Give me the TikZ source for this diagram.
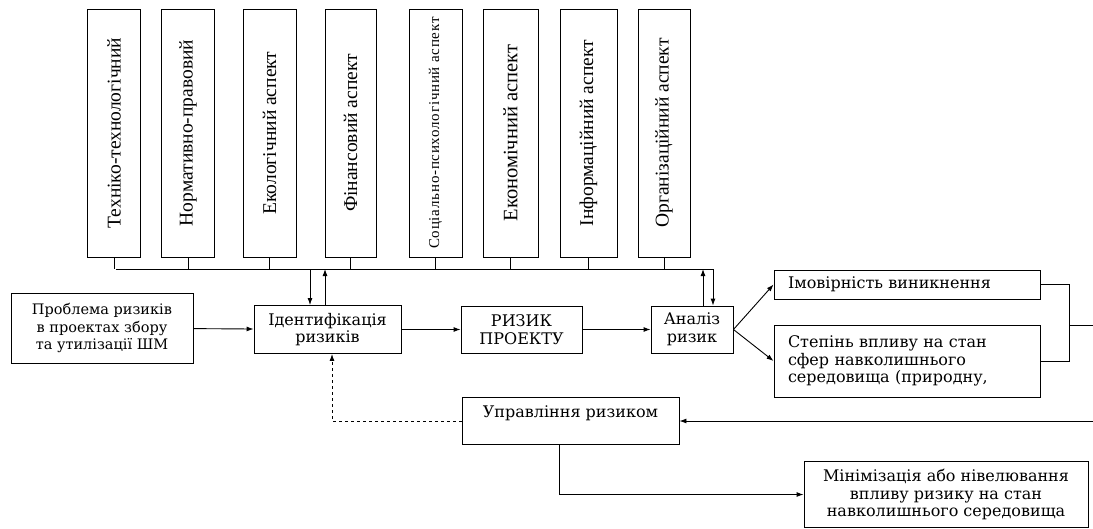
\documentclass[tikz,border=0pt]{standalone}
\usepackage{fontspec}
\setmainfont{Liberation Serif}
\newfontfamily\wideserif{DejaVu Serif}
\usetikzlibrary{arrows.meta}

\tikzset{
  blk/.style={draw, line width=.9pt, inner sep=0pt},
  aspect/.style={blk, rotate=90, minimum width=248, minimum height=53,
    font=\fontsize{19.5}{19.5}\selectfont},
  hbox/.style={blk, align=center, font=\wideserif\fontsize{16}{17.5}\selectfont},
  con/.style={line width=.9pt},
  arr/.style={con, -{Latex[length=7pt,width=5pt]}}
}

\begin{document}
\begin{tikzpicture}[x=1pt,y=-1pt]
\useasboundingbox (0,0) rectangle (1093,528);

% aspects along the top
\node[aspect] (tech) at (114,133) {Техніко-технологічний};
\node[aspect] (norm) at (188,133) {Нормативно-правовий};
\node[aspect] (ekol) at (269.5,133) {Екологічний аспект};
\node[aspect, minimum height=51] (fin) at (350.5,133) {Фінансовий аспект};
\node[aspect, font={\addfontfeatures{LetterSpace=5}\fontsize{15}{15}\selectfont}] (soc) at (435.5,133)
  {Соціально-психологічний аспект};
\node[aspect, minimum height=55, font=\fontsize{20.5}{20.5}\selectfont] (ekon) at (510.5,133) {Економічний аспект};
\node[aspect, minimum height=57] (inf) at (588.5,133) {Інформаційний аспект};
\node[aspect, minimum height=52] (org) at (664,133) {Організаційний аспект};

\coordinate (busL) at (116,269);
\coordinate (busR) at (713,269);
\draw[con] (busL) -- (busR);
\draw[con] (tech.west) -- (tech.west |- busL);
\draw[con] (norm.west) -- (norm.west |- busL);
\draw[con] (ekol.west) -- (ekol.west |- busL);
\draw[con] (fin.west) -- (fin.west |- busL);
\draw[con] (soc.west) -- (soc.west |- busL);
\draw[con] (ekon.west) -- (ekon.west |- busL);
\draw[con] (inf.west) -- (inf.west |- busL);
\draw[con] (org.west) -- (org.west |- busL);

% main chain
\node[hbox, minimum width=182, minimum height=70, font=\wideserif\fontsize{14.5}{17.5}\selectfont] (prob) at (102,328)
  {Проблема ризиків\\в проектах збору\\та утилізації ШМ};
\node[hbox, minimum width=147, minimum height=48] (ident) at (327.5,329.5)
  {Ідентифікація\\ризиків};
\node[hbox, minimum width=121, minimum height=47] (rizik) at (521.5,329.5)
  {РИЗИК\\ПРОЕКТУ};
\node[hbox, minimum width=82, minimum height=47] (anal) at (692,329.5)
  {Аналіз\\ризик};

\draw[arr] (prob) -- (ident);
\draw[arr] (ident) -- (rizik);
\draw[arr] (rizik) -- (anal);

\draw[arr] (busL -| 310,0) -- (ident.north -| 310,0);
\draw[arr] (ident.north -| 325,0) -- (busL -| 325,0);
\draw[arr] (anal.north -| 703,0) -- (busR -| 703,0);
\draw[arr] (busR) -- (anal.north -| busR);

% outcomes of the analysis
\node[hbox, align=left, text width=238, minimum width=266, minimum height=29] (imov) at (907,284.5)
  {Імовірність виникнення};
\node[hbox, align=left, text width=238, minimum width=266, minimum height=72] (step) at (907,361)
  {Степінь впливу на стан\\сфер навколишнього\\середовища (природну,};

\draw[arr] (anal.east) -- (imov.west);
\draw[arr] (anal.east) -- (step.west);

\coordinate (join) at (1069,325);
\coordinate (outR) at (1093,325);
\draw[con] (imov.east) -| (join) |- (step.east);
\draw[con] (join) -- (outR);

% management
\node[blk, minimum width=217, minimum height=47,
  label={[anchor=north, yshift=-5pt, font=\wideserif\fontsize{16}{17.5}\selectfont]north:Управління ризиком}]
  (upr) at (570.5,421) {};
\coordinate (inR) at (1093,421);
\draw[arr] (inR) -- (upr.east);
\draw[arr, dashed] (upr.west) -| ([xshift=4.5pt]ident.south);

\node[hbox, minimum width=284, minimum height=66] (mini) at (946,494.5)
  {Мінімізація або нівелювання\\впливу ризику на стан\\навколишнього середовища};
\draw[arr] ([xshift=-11.5pt]upr.south) |- (mini.west);

\end{tikzpicture}
\end{document}
